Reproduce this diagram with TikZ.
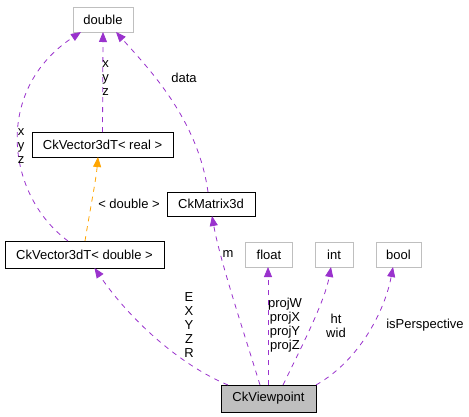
\documentclass[tikz,border=0pt]{standalone}
\usepackage{fontspec}
\setmainfont{Liberation Sans}
\usetikzlibrary{arrows.meta}
\definecolor{edgepurple}{HTML}{9A32CD}
\definecolor{edgeorange}{HTML}{FFA500}
\definecolor{grayborder}{HTML}{BFBFBF}
\definecolor{grayfill}{HTML}{BFBFBF}
\begin{document}
\begin{tikzpicture}[x=1pt,y=-1pt,
  every node/.style={font=\fontsize{13}{14}\selectfont, inner sep=0pt, outer sep=0pt},
  cls/.style={draw=black, line width=0.9pt, minimum height=25pt},
  ext/.style={draw=grayborder, line width=0.9pt, minimum height=25pt},
  lbl/.style={align=center},
  uses/.style={draw=edgepurple, line width=0.8pt, dash pattern=on 5pt off 5pt,
    -{Triangle[length=10pt,width=8pt,fill=edgepurple]}},
  inherit/.style={draw=edgeorange, line width=0.8pt, dash pattern=on 5pt off 5pt,
    -{Triangle[length=10pt,width=8pt,fill=edgeorange]}}
]
\useasboundingbox (0,0) rectangle (469,416);
\fill[white] (0,0) rectangle (469,416);

\node[ext, minimum width=60pt] (double) at (103,19.5) {double};
\node[cls, minimum width=141pt] (real) at (102.5,144.5) {CkVector3dT< real >};
\node[cls, minimum width=88pt, minimum height=24pt] (matrix) at (211,204) {CkMatrix3d};
\node[cls, minimum width=159pt, minimum height=27pt] (vecd) at (84.5,254.5) {CkVector3dT< double >};
\node[ext, minimum width=47pt] (float) at (269,254.5) {float};
\node[ext, minimum width=38pt] (int) at (334,254.5) {int};
\node[ext, minimum width=45pt] (bool) at (398.5,254.5) {bool};
\node[cls, fill=grayfill, minimum width=95pt, minimum height=27pt] (view) at (268.5,398.5) {CkViewpoint};

% edges
\draw[uses] (real.north) -- (double.south);
\draw[uses] ([xshift=-16.5pt]vecd.north) .. controls (6,195) and (-7,90) .. ([xshift=-22pt]double.south);
\draw[uses] ([xshift=-3pt]matrix.north) .. controls (198,120) and (150,70) .. ([xshift=13pt]double.south);
\draw[inherit] ([xshift=0.5pt]vecd.north) .. controls (90,210) and (96,180) .. ([xshift=-4.5pt]real.south);
\draw[uses] ([xshift=-40.5pt]view.north) .. controls (180,365) and (130,320) .. ([xshift=10pt]vecd.south);
\draw[uses] ([xshift=-8.5pt]view.north) .. controls (240,320) and (220,260) .. ([xshift=1pt]matrix.south);
\draw[uses] ([xshift=-0.5pt]view.north) -- ([xshift=-1pt]float.south);
\draw[uses] ([xshift=14.5pt]view.north) .. controls (305,340) and (325,300) .. ([xshift=-3pt]int.south);
\draw[uses] (view.north east) .. controls (360,360) and (385,310) .. ([xshift=-5.5pt]bool.south);

% labels
\node[lbl] (l1) at (105.5,78) {x\\y\\z};
\node[lbl] (l2) at (21,146) {x\\y\\z};
\node[lbl] (l3) at (184,78) {data};
\node[lbl] (l4) at (129,204) {< double >};
\node[lbl] (l5) at (228,254) {m};
\node[lbl] (l6) at (189,325.5) {E\\X\\Y\\Z\\R};
\node[lbl] (l7) at (285,325.5) {projW\\projX\\projY\\projZ};
\node[lbl] (l8) at (336,325.5) {ht\\wid};
\node[lbl] (l9) at (425,325.5) {isPerspective};
\end{tikzpicture}
\end{document}
